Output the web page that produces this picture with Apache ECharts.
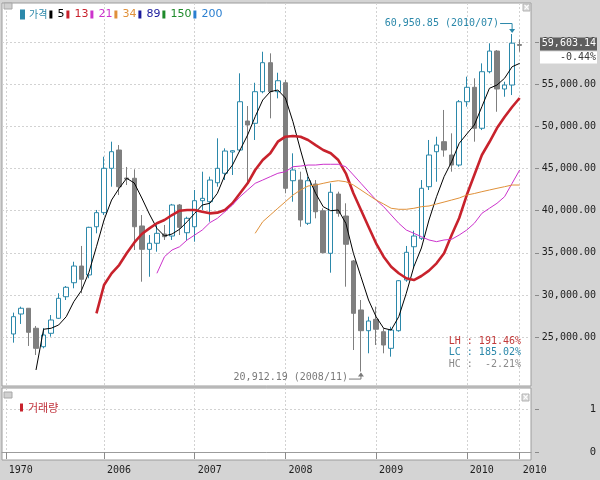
<!DOCTYPE html>
<html><head><meta charset="utf-8">
<script src="https://cdn.jsdelivr.net/npm/echarts@6/dist/echarts.min.js"></script>
<style>html,body{margin:0;padding:0;background:#d4d4d4}#c{width:600px;height:480px}</style>
</head><body><div id="c"></div>
<script>
// ---------------- data ----------------
const months = [
 '2005/01','2005/02','2005/03','2005/04','2005/05','2005/06','2005/07','2005/08','2005/09','2005/10','2005/11','2005/12',
 '2006/01','2006/02','2006/03','2006/04','2006/05','2006/06','2006/07','2006/08','2006/09','2006/10','2006/11','2006/12',
 '2007/01','2007/02','2007/03','2007/04','2007/05','2007/06','2007/07','2007/08','2007/09','2007/10','2007/11','2007/12',
 '2008/01','2008/02','2008/03','2008/04','2008/05','2008/06','2008/07','2008/08','2008/09','2008/10','2008/11','2008/12',
 '2009/01','2009/02','2009/03','2009/04','2009/05','2009/06','2009/07','2009/08','2009/09','2009/10','2009/11','2009/12',
 '2010/01','2010/02','2010/03','2010/04','2010/05','2010/06','2010/07','2010/08'];
const firstCategory = '1970/01';
const lastCategory = '';

const opens = [25370,27740,28420,26050,23860,25450,27230,29790,31450,33430,32370,38090,
 39760,45020,47190,43870,43840,38180,35410,36130,37230,36990,40670,37380,
 38090,41180,41060,43310,44430,46950,47190,50630,50360,54110,57550,54110,
 55170,43550,43630,38500,43160,39990,34940,41970,39360,34030,28220,25760,
 27110,25640,23670,25760,31770,35720,36720,42840,46990,48180,46600,45410,
 52920,54630,49770,56480,58930,54430,54900,59700];
const closes = [27420,28420,25570,23670,25250,27030,29600,30910,33430,31860,38020,39760,
 45020,46990,42840,43750,38090,35410,36130,37310,36910,40670,38020,39090,
 41180,41460,43630,45020,47070,47110,52920,50160,54110,57550,54110,55410,
 42650,44820,38890,43550,39870,35010,42180,39680,36010,27820,25760,26910,
 25930,24060,25840,31690,35060,36990,42650,46600,47780,47190,45410,52920,
 54630,49770,56480,58930,54430,54900,59866,59603.14];
const lows = [24340,26560,23950,22880,23670,25050,27150,29400,30790,30200,31980,37310,
 39480,42840,41850,43040,35330,31570,32160,35130,36520,36520,37110,36520,
 36320,40080,38690,42840,43630,44230,46990,43240,48380,53920,50950,53320,
 42060,41060,38090,38300,39090,34940,32640,39280,30980,23470,20912.19,23080,
 24060,23080,22680,25640,31570,33160,36520,42450,43430,46400,44620,45210,
 52330,48180,49560,56290,51730,53510,53710,58850];
const highs = [27900,28610,28450,26320,26080,27620,30200,31060,33940,35810,38090,40080,
 46400,48180,47780,45180,44900,39480,37110,38570,38300,40800,40790,39280,
 42450,44620,44030,48580,47390,47190,56290,52410,55170,58850,58660,56360,
 55490,46800,44620,44030,43630,40280,43240,42250,40870,34150,29400,27420,
 28610,26050,26230,31770,35810,37620,43630,48380,48770,51940,49170,53120,
 55890,55700,57470,59850,59050,55290,60950.85,60300];

const ma5 = [null,null,null,21100,25930,26050,26440,27420,29200,30510,32680,35720,
 38890,41260,42650,43840,43280,41500,39600,37900,36990,37230,37790,38690,
 39680,40670,40870,42060,44230,45410,47190,48970,51140,53120,54110,54310,
 53360,50550,47190,44030,42060,40470,39990,40080,38500,34940,32160,29400,
 27420,26050,25840,27420,30200,33350,35570,38890,41650,44030,45800,47990,
 49090,50160,52330,54510,54900,55700,57070,57470];
const ma13 = [null,null,null,null,null,null,null,null,null,null,null,27820,
 31180,32560,33550,34940,36200,37230,37900,38500,38890,39480,39990,40080,
 40080,39870,39680,39760,40080,40870,42060,43240,44820,46000,46800,48180,
 48770,48850,48770,48380,47780,47190,46800,46000,44430,42060,40080,38090,
 36130,34540,33350,32570,31980,31770,32250,32880,33750,34940,37110,39130,
 41850,44230,46600,48140,49800,51100,52290,53360];
const ma21 = [null,null,null,null,null,null,null,null,null,null,null,null,
 null,null,null,null,null,null,null,32570,34540,35330,35720,36520,
 37110,37700,38570,39090,39870,40670,41650,42450,43240,43630,44030,44430,
 44620,45210,45290,45410,45410,45500,45500,45500,45210,44230,43240,42250,
 41260,40470,39480,38500,37700,37310,36910,36520,36320,36520,36600,37110,
 37700,38500,39680,40280,40870,41650,43240,44820];
const ma34 = [null,null,null,null,null,null,null,null,null,null,null,null,
 null,null,null,null,null,null,null,null,null,null,null,null,
 null,null,null,null,null,null,null,null,37310,38690,39480,40280,
 41060,41850,42450,42920,43040,43240,43430,43550,43430,43040,42450,41850,
 41260,40790,40280,40160,40160,40280,40470,40550,40790,41020,41260,41500,
 41850,42030,42250,42450,42650,42840,43040,43040];

const yTicks = [25000,30000,35000,40000,45000,50000,55000,60000];
const volTicks = [0,1];
const legendNames = ['가격','5','13','21','34','89','150','200'];
const volumeName = '거래량';
const statLines = ['LH : 191.46%','LC : 185.02%','HC :  -2.21%'];
const changeText = '-0.44%';

// ---------------- styles ----------------
const TEAL = '#2b88aa', DOWN = '#7f7f7f', RED = '#c8222c';
const legendColors = [TEAL,'#000000',RED,'#cc33cc','#e0913a','#1c1c9c','#1e8a2a','#2a7fd0'];
const statColors = ['#c23a3a', TEAL, '#8a8a8a'];
const MONO = '"DejaVu Sans Mono", "Liberation Mono", monospace';
const GRID_LINE = {color:'#d2d2d2', type:[2,2], width:1};

const categories = [firstCategory].concat(months, [lastCategory]);
const pad = a => [null].concat(a, [null]);
const candleData = [['-','-','-','-']].concat(months.map((m,i)=>[opens[i],closes[i],lows[i],highs[i]]), [['-','-','-','-']]);
const showTick = (idx, val) => idx === 0 || idx === categories.length - 2 || (idx > 1 && /\/01$/.test(val));
const fmt2 = v => v.toLocaleString('en-US',{minimumFractionDigits:2, maximumFractionDigits:2});

const chart = echarts.init(document.getElementById('c'));
const lineSeries = (name, data, color, width) => ({
  name, type:'line', data: pad(data), xAxisIndex:0, yAxisIndex:0, symbol:'none',
  lineStyle:{color, width}, itemStyle:{color}, connectNulls:false, silent:true, z:3
});

chart.setOption({
  animation:false,
  backgroundColor:'#d4d4d4',
  textStyle:{fontFamily:'DejaVu Sans'},
  legend:[{
    left:15, top:4, itemWidth:3, itemHeight:8, itemGap:2, icon:'rect', selectedMode:false,
    data: legendNames.map((n,i)=>({name:n, itemStyle:{color:legendColors[i]}, textStyle:{color:legendColors[i]}})),
    formatter: n => n === legendNames[0] ? '{k|' + n + '}' : n,
    textStyle:{fontFamily:'DejaVu Sans', fontSize:11,
      rich:{k:{fontFamily:'"Noto Sans CJK KR"', fontSize:10, color:TEAL, padding:[0,6,0,0]}}}
  },{
    left:15, top:397, itemWidth:3, itemHeight:8, icon:'rect', selectedMode:false,
    data:[{name:volumeName, itemStyle:{color:RED}, textStyle:{color:'#c0303a'}}],
    textStyle:{fontFamily:'"Noto Sans CJK KR"', fontSize:11}
  }],
  grid:[
    {left:2, right:69, top:3, height:383, show:true, backgroundColor:'#ffffff', borderColor:'#9c9c9c', borderWidth:1},
    {left:2, right:69, top:388, height:72, show:true, backgroundColor:'#ffffff', borderColor:'#9c9c9c', borderWidth:1}
  ],
  xAxis:[
    {type:'category', gridIndex:0, data:categories, boundaryGap:true,
     axisLine:{show:false}, axisTick:{show:false}, axisLabel:{show:false},
     splitLine:{show:true, interval:showTick, alignWithLabel:true, lineStyle:GRID_LINE}},
    {type:'category', gridIndex:1, data:categories, boundaryGap:true,
     axisLine:{show:true, lineStyle:{color:'#9c9c9c'}},
     axisTick:{show:true, interval:showTick, alignWithLabel:true, length:7, lineStyle:{color:'#8c8c8c'}},
     axisLabel:{interval:showTick, formatter:v=>v.slice(0,4), align:'left', padding:[0,0,0,3], margin:5,
       fontFamily:MONO, fontSize:10, color:'#1e1e1e'},
     splitLine:{show:true, interval:showTick, alignWithLabel:true, lineStyle:GRID_LINE}}
  ],
  yAxis:[
    {type:'value', gridIndex:0, position:'right', min:19200, max:64630, offset:4,
     axisLine:{show:false},
     axisTick:{show:true, length:4, customValues:yTicks, lineStyle:{color:'#8a8a8a'}},
     axisLabel:{customValues:yTicks, formatter:fmt2, align:'right', margin:61, fontFamily:MONO, fontSize:10, color:'#1e1e1e'},
     splitLine:{show:true, lineStyle:GRID_LINE}},
    {type:'value', gridIndex:1, position:'right', min:-0.186, max:1.488, offset:4,
     axisLine:{show:false},
     axisTick:{show:true, length:4, customValues:volTicks, lineStyle:{color:'#8a8a8a'}},
     axisLabel:{customValues:volTicks, align:'right', margin:61, fontFamily:MONO, fontSize:10.5, color:'#1e1e1e'},
     splitLine:{show:true, lineStyle:GRID_LINE}}
  ],
  series:[
    {name:legendNames[0], type:'candlestick', data:candleData, xAxisIndex:0, yAxisIndex:0, barWidth:5, silent:true, z:2,
     itemStyle:{color:'#ffffff', color0:DOWN, borderColor:TEAL, borderColor0:DOWN, borderWidth:1}},
    lineSeries(legendNames[1], ma5, legendColors[1], 1),
    lineSeries(legendNames[2], ma13, legendColors[2], 2.6),
    lineSeries(legendNames[3], ma21, legendColors[3], 1),
    lineSeries(legendNames[4], ma34, legendColors[4], 1),
    lineSeries(legendNames[5], [], legendColors[5], 1),
    lineSeries(legendNames[6], [], legendColors[6], 1),
    lineSeries(legendNames[7], [], legendColors[7], 1),
    {name:volumeName, type:'bar', data:[], xAxisIndex:1, yAxisIndex:1, itemStyle:{color:RED}}
  ]
});

// ---------------- annotations anchored through the axes ----------------
let hi = 0, lo = 0;
for (let i = 0; i < highs.length; i++) { if (highs[i] > highs[hi]) hi = i; if (lows[i] < lows[lo]) lo = i; }
const last = closes.length - 1;
const hp = chart.convertToPixel({xAxisIndex:0, yAxisIndex:0}, [hi + 1, highs[hi]]);
const lp = chart.convertToPixel({xAxisIndex:0, yAxisIndex:0}, [lo + 1, lows[lo]]);
const cy = chart.convertToPixel({yAxisIndex:0}, closes[last]);
const grid0 = chart.getModel().getComponent('grid', 0).coordinateSystem.getRect();
const gx = grid0.x + grid0.width, gy = grid0.y + grid0.height;
const font = '10px ' + MONO;

const g = [];
// top-left / top-right panel icons
g.push({type:'rect', shape:{x:4, y:3, width:8, height:6}, style:{fill:'#d0d0d0', stroke:'#a8a8a8'}});
g.push({type:'rect', shape:{x:gx-8, y:4, width:7, height:7}, style:{fill:'#d8d8d8', stroke:'#b4b4b4'}});
g.push({type:'text', x:gx-4.5, y:7.5, style:{text:'×', fill:'#ffffff', font:'bold 8px DejaVu Sans', align:'center', verticalAlign:'middle'}});
g.push({type:'rect', shape:{x:4, y:392, width:8, height:6}, style:{fill:'#d0d0d0', stroke:'#a8a8a8'}});
g.push({type:'rect', shape:{x:gx-9, y:394, width:7, height:7}, style:{fill:'#d8d8d8', stroke:'#b4b4b4'}});
g.push({type:'text', x:gx-5.5, y:397.5, style:{text:'×', fill:'#ffffff', font:'bold 8px DejaVu Sans', align:'center', verticalAlign:'middle'}});
// max annotation
g.push({type:'text', x:hp[0]-13, y:hp[1]-11, z:10, style:{text:fmt2(highs[hi]) + ' (' + months[hi] + ')', fill:TEAL, font, align:'right', verticalAlign:'middle'}});
g.push({type:'polyline', z:10, shape:{points:[[hp[0]-12, hp[1]-10.5],[hp[0], hp[1]-10.5],[hp[0], hp[1]-3]]}, style:{stroke:TEAL, fill:null, lineWidth:1}});
g.push({type:'polygon', z:10, shape:{points:[[hp[0]-3, hp[1]-5],[hp[0]+3, hp[1]-5],[hp[0], hp[1]-1]]}, style:{fill:TEAL}});
// min annotation
g.push({type:'text', x:lp[0]-13, y:lp[1]+6, z:10, style:{text:fmt2(lows[lo]) + ' (' + months[lo] + ')', fill:'#7a7a7a', font, align:'right', verticalAlign:'middle'}});
g.push({type:'polyline', z:10, shape:{points:[[lp[0]-12, lp[1]+7.5],[lp[0], lp[1]+7.5],[lp[0], lp[1]+2]]}, style:{stroke:'#7a7a7a', fill:null, lineWidth:1}});
g.push({type:'polygon', z:10, shape:{points:[[lp[0]-3, lp[1]+5],[lp[0]+3, lp[1]+5],[lp[0], lp[1]+1]]}, style:{fill:'#7a7a7a'}});
// LH / LC / HC
statLines.forEach((t,i)=>g.push({type:'text', x:gx-10, y:gy-45+i*11.5, z:10, style:{text:t, fill:statColors[i], font, align:'right', verticalAlign:'middle'}}));
// current price box
g.push({type:'rect', z:10, shape:{x:540, y:cy-8, width:57, height:13}, style:{fill:'#5e5e5e'}});
g.push({type:'text', z:11, x:596, y:cy-1.5, style:{text:fmt2(closes[last]), fill:'#ffffff', font:'10px ' + MONO, align:'right', verticalAlign:'middle'}});
g.push({type:'rect', z:10, shape:{x:540, y:cy+6, width:57, height:12}, style:{fill:'#ffffff'}});
g.push({type:'text', z:11, x:596, y:cy+12, style:{text:changeText, fill:'#3a3a3a', font:'10px ' + MONO, align:'right', verticalAlign:'middle'}});

chart.setOption({graphic: g});
</script></body></html>
